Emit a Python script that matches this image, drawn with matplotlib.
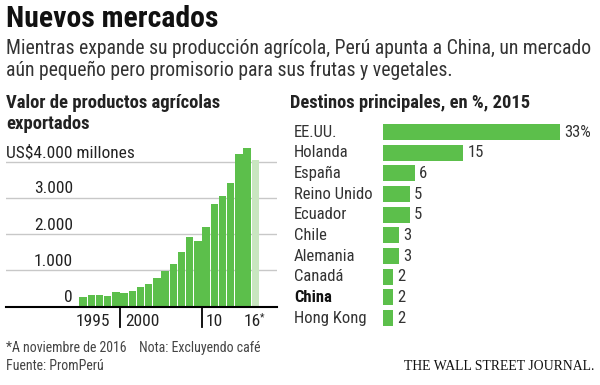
import matplotlib
matplotlib.use("Agg")
import matplotlib.pyplot as plt
from matplotlib import font_manager
from matplotlib.transforms import offset_copy

# ---------------- data ----------------
years = list(range(1995, 2017))
export_values = [270, 310, 330, 295, 400, 385, 430, 540, 625, 780, 990, 1190,
                 1500, 1910, 1820, 2190, 2830, 3050, 3410, 4200, 4390, 4060]
partial_year = 2016

countries = ["EE.UU.", "Holanda", "España", "Reino Unido", "Ecuador", "Chile",
             "Alemania", "Canadá", "China", "Hong Kong"]
shares = [33, 15, 6, 5, 5, 3, 3, 2, 2, 2]

ytick_values = [0, 1000, 2000, 3000]
ytick_labels = ["0", "1.000", "2.000", "3.000"]
top_label = "US$4.000 millones"

# ---------------- fonts ----------------
names = {f.name for f in font_manager.fontManager.ttflist}
SANS = "Liberation Sans Narrow" if "Liberation Sans Narrow" in names else (
    "Roboto Condensed" if "Roboto Condensed" in names else "Roboto")
plt.rcParams["font.family"] = [SANS, "DejaVu Sans"]

GREEN = "#5cbf4b"
LIGHT = "#c9e6c0"
GRID = "#c8c8c8"
TXT = "#222222"

W, H = 600, 385
fig = plt.figure(figsize=(W / 100, H / 100), dpi=100)
fig.patch.set_facecolor("white")


def fx(x):
    return x / W


def fy(y):
    return 1 - y / H


renderer = fig.canvas.get_renderer()


def fit_text(s, x, y, width, size0, ha="left", **kw):
    t = fig.text(fx(x), fy(y), s, fontsize=size0, va="center", ha=ha, **kw)
    bb = t.get_window_extent(renderer=renderer)
    t.set_fontsize(size0 * width / bb.width)
    return t


# header texts
fit_text("Nuevos mercados", 6, 19, 212, 20, fontweight="bold", color="#111111")
sub1 = fit_text("Mientras expande su producción agrícola, Perú apunta a China, un mercado",
                6, 49, 584, 13, color="#333333")
fig.text(fx(6), fy(70), "aún pequeño pero promisorio para sus frutas y vegetales.",
         va="center", ha="left", color="#333333", fontsize=sub1.get_fontsize())

hdr = fit_text("Valor de productos agrícolas", 6, 103, 216, 12, fontweight="bold", color=TXT)
fig.text(fx(6), fy(124), "exportados", fontsize=hdr.get_fontsize(), fontweight="bold",
         color=TXT, va="center", ha="left")
fit_text("Destinos principales, en %, 2015", 290, 103, 241, 12, fontweight="bold", color=TXT)

# ---------------- left chart ----------------
base_px = 306.7
px_per_k = 36.25
x0_px = 83.1       # center of first bar
bar_px = 8.2
left_px, right_px, top_px = 6, 277, 140

ax1 = fig.add_axes([fx(left_px), fy(base_px), (right_px - left_px) / W, (base_px - top_px) / H])
ax1.set_xlim(years[0] + (left_px - x0_px) / bar_px, years[0] + (right_px - x0_px) / bar_px)
ax1.set_ylim(0, (base_px - top_px) / px_per_k * 1000)
ax1.axis("off")

colors = [LIGHT if y == partial_year else GREEN for y in years]
ax1.bar(years, export_values, width=0.88, color=colors, zorder=2)
for v in ytick_values[1:] + [4000]:
    ax1.axhline(v, color=GRID, lw=1, zorder=1)
ax1.axhline(0, color="black", lw=1.5, zorder=3, clip_on=False)

lab_off = 9 / px_per_k * 1000
xlab = years[0] + (73 - x0_px) / bar_px
for v, s in zip(ytick_values, ytick_labels):
    ax1.text(xlab, v + lab_off, s, ha="right", va="center", fontsize=12.5, color=TXT)
ax1.text(ax1.get_xlim()[0], 4000 + lab_off, top_label, ha="left", va="center",
         fontsize=12.5, color=TXT)

ty = -15 / px_per_k * 1000
tick_len = 20 / px_per_k * 1000
for yr in (2000, 2010):
    ax1.plot([yr - 0.5, yr - 0.5], [0, -tick_len], color="black", lw=1.3, clip_on=False)
ax1.text(1996.2, ty, "1995", ha="center", va="center", fontsize=12.5, color=TXT, clip_on=False)
ax1.text(2000.1, ty, "2000", ha="left", va="center", fontsize=12.5, color=TXT, clip_on=False)
ax1.text(2009.98, ty, "10", ha="left", va="center", fontsize=12.5, color=TXT, clip_on=False)
t16 = ax1.text(2014.6, ty, "16", ha="left", va="center", fontsize=12.5, color=TXT,
               clip_on=False)
bb16 = t16.get_window_extent(renderer=renderer)
xs, _ = ax1.transData.inverted().transform((bb16.x1 - 1.5, 0))
ax1.text(xs, ty, "*", ha="left", va="center", fontsize=7.5, color=TXT, clip_on=False,
         transform=offset_copy(ax1.transData, fig=fig, x=0, y=3, units="points"))

# ---------------- right chart ----------------
zero_px = 382.7
px_per_pct = 5.37
row0_px = 132
row_px = 20.67
rtop, rbot = 120, 330
ax2 = fig.add_axes([fx(zero_px), fy(rbot), (W - zero_px) / W, (rbot - rtop) / H])
ax2.set_xlim(0, (W - zero_px) / px_per_pct)
ax2.set_ylim((rbot - row0_px) / row_px, (rtop - row0_px) / row_px)
ax2.axis("off")

rows = list(range(len(countries)))
ax2.barh(rows, shares, height=16 / row_px, color=GREEN)
xname = (294 - zero_px) / px_per_pct
for i, (c, v) in enumerate(zip(countries, shares)):
    bold = c == "China"
    ax2.text(xname, i, c, ha="left", va="center", fontsize=12,
             color="#111111" if bold else "#333333",
             fontweight="bold" if bold else "normal", clip_on=False)
    ax2.text(v + 0.75, i, f"{v}%" if i == 0 else f"{v}", ha="left", va="center",
             fontsize=12, color="#333333", clip_on=False)

# ---------------- footer ----------------
fig.text(fx(6), fy(348), "*A noviembre de 2016    Nota: Excluyendo café", fontsize=10,
         color="#444444", va="center", ha="left")
fig.text(fx(6), fy(366), "Fuente: PromPerú", fontsize=10, color="#444444",
         va="center", ha="left")
fit_text("THE WALL STREET JOURNAL.", 594, 366, 192, 9.5, ha="right",
         family=["Liberation Serif", "DejaVu Serif"], color="#111111")

fig.savefig("out.png", dpi=100, facecolor="white")
